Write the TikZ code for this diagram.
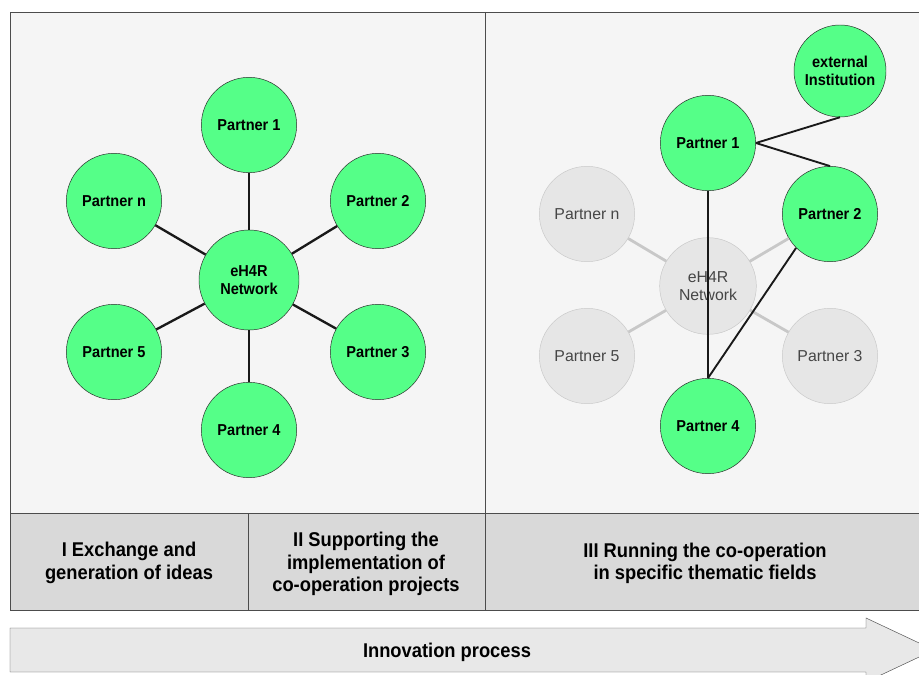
\documentclass[tikz,border=0pt]{standalone}
\usepackage{fontspec}
\setmainfont{Liberation Sans}
\newfontfamily\narrowfont[FakeStretch=0.92]{Liberation Sans}
\usetikzlibrary{positioning}

\definecolor{partnergreen}{RGB}{85,255,136}
\definecolor{ghostfill}{RGB}{230,230,230}
\definecolor{ghostline}{RGB}{200,200,200}
\definecolor{ghosttext}{RGB}{70,70,70}
\definecolor{panelfill}{RGB}{245,245,245}
\definecolor{bandfill}{RGB}{217,217,217}
\definecolor{arrowfill}{RGB}{232,232,232}

\begin{document}
\begin{tikzpicture}[x=0.03cm, y=-0.03cm,
        partner/.style={circle, draw=black!85, fill=partnergreen, minimum size=2.86cm, inner sep=0pt, align=center, font=\narrowfont\bfseries\fontsize{13.5}{15.5}\selectfont},
        ghost/.style={circle, draw=ghostline, fill=ghostfill, minimum size=2.86cm, inner sep=0pt, align=center, text=ghosttext, font=\fontsize{13.5}{15}\selectfont},
        link/.style={line width=1.6pt, black!90},
        ghostlink/.style={line width=2.4pt, ghostline},
        phase/.style={align=center, font=\narrowfont\bfseries\fontsize{17}{19}\selectfont}
    ]
        \useasboundingbox (0,0) rectangle (919,675);
        \clip (0,0) rectangle (919,675);

        % Frame and phase band
        \draw[fill=panelfill, draw=black!70] (10,12) rectangle (935,610);
        \draw[fill=bandfill, draw=black!70] (10,513) rectangle (935,610);
        \draw[black!70] (485,12) -- (485,610);
        \draw[black!70] (248,513) -- (248,610);

        % Phase I and II network
        \node[partner, minimum size=3cm] (net_l) at (249,280) {eH4R\\Network};
        \node[partner] (p1_l) at (249,125) {Partner 1};
        \node[partner] (p2_l) at (378,201) {Partner 2};
        \node[partner] (p3_l) at (378,352) {Partner 3};
        \node[partner] (p4_l) at (249,430) {Partner 4};
        \node[partner] (p5_l) at (114,352) {Partner 5};
        \node[partner] (pn_l) at (114,201) {Partner n};

        \foreach \p in {p1_l, p2_l, p3_l, p4_l, p5_l, pn_l}
            \draw[link, line width=2pt] (net_l) -- (\p);

        % Phase III network
        \node[ghost, minimum size=2.9cm] (net_r) at (708,286) {eH4R\\Network};
        \node[ghost] (pn_r) at (587,214) {Partner n};
        \node[ghost] (p5_r) at (587,356) {Partner 5};
        \node[ghost] (p3_r) at (830,356) {Partner 3};
        \node[partner] (p1_r) at (708,143) {Partner 1};
        \node[partner] (p2_r) at (830,214) {Partner 2};
        \node[partner] (p4_r) at (708,426) {Partner 4};
        \node[partner, minimum size=2.76cm] (ext) at (840,71) {external\\Institution};

        \foreach \p in {pn_r, p5_r, p3_r, p2_r}
            \draw[ghostlink] (net_r) -- (\p);

        \draw[link] (p1_r.east) -- (ext.south);
        \draw[link] (p1_r.east) -- (p2_r.north);
        \draw[link] (p1_r.south) -- (p4_r.north);
        \draw[link] (p2_r.south west) -- (p4_r.north);

        % Phases
        \node[phase] (ph1) at (129,563) {I Exchange and\\generation of ideas};
        \node[phase] (ph2) at (366,564) {II Supporting the\\implementation of\\co-operation projects};
        \node[phase] (ph3) at (705,563) {III Running the co-operation\\in specific thematic fields};

        % Innovation arrow
        \draw[fill=arrowfill, draw=black!70] (10,628) -- (866,628) -- (866,618) -- (934,650)
            -- (866,682) -- (866,672) -- (10,672) -- cycle;
        \node[phase] (innov) at (447,652) {Innovation process};
    \end{tikzpicture}
\end{document}
